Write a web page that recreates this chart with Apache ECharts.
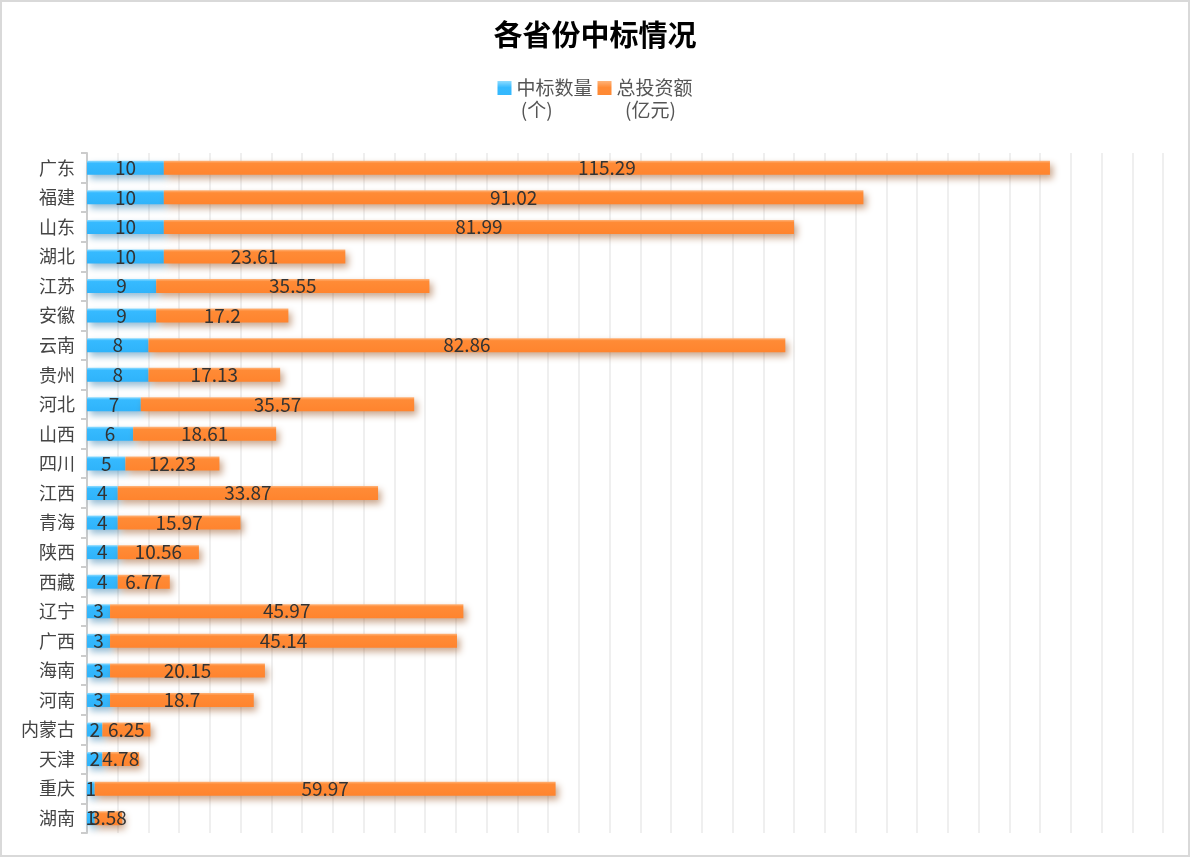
<!DOCTYPE html>
<html><head><meta charset="utf-8">
<script src="https://cdn.jsdelivr.net/npm/echarts@6/dist/echarts.min.js"></script>
<style>html,body{margin:0;padding:0;background:#fff}#c{width:1190px;height:857px}</style>
</head><body><div id="c"></div>
<script>
const categories = ['广东','福建','山东','湖北','江苏','安徽','云南','贵州','河北','山西','四川','江西','青海','陕西','西藏','辽宁','广西','海南','河南','内蒙古','天津','重庆','湖南'];
const countValues = [10,10,10,10,9,9,8,8,7,6,5,4,4,4,4,3,3,3,3,2,2,1,1];
const investValues = [115.29,91.02,81.99,23.61,35.55,17.2,82.86,17.13,35.57,18.61,12.23,33.87,15.97,10.56,6.77,45.97,45.14,20.15,18.7,6.25,4.78,59.97,3.58];
const seriesNames = ['中标数量\n (个)', '总投资额\n  (亿元)'];

const FONT = '"Microsoft YaHei","Noto Sans CJK SC",sans-serif';
function grad(top, main, bottom){
  return new echarts.graphic.LinearGradient(0,0,0,1,[
    {offset:0,color:top},{offset:0.18,color:main},{offset:1,color:bottom}]);
}
const iconPath = 'path://M0,0L14,0L14,14L0,14Z M0,36L0.01,36';
const chart = echarts.init(document.getElementById('c'));
chart.setOption({
  animation:false,
  backgroundColor:'#fff',
  textStyle:{fontFamily:FONT},
  graphic:[{type:'rect',silent:true,z:100,shape:{x:1,y:1,width:1188,height:855},style:{fill:'none',stroke:'#d9d9d9',lineWidth:2}}],
  title:{text:'各省份中标情况',left:'center',top:15,textStyle:{fontSize:29,fontWeight:'bold',color:'#000',fontFamily:FONT}},
  legend:{top:72,left:'center',itemWidth:14,itemHeight:36,itemGap:5,icon:iconPath,
    textStyle:{fontSize:19,color:'#555',lineHeight:22,fontFamily:FONT},
    data:seriesNames},
  grid:{left:87,right:27,top:153,bottom:24,containLabel:false},
  xAxis:{type:'value',min:0,max:140,interval:4,
    axisLabel:{show:false},axisLine:{show:false},axisTick:{show:false},
    splitLine:{show:true,lineStyle:{color:'#efefef',width:2}}},
  yAxis:{type:'category',inverse:true,data:categories,
    axisLine:{show:true,lineStyle:{color:'#cccccc',width:2}},
    axisTick:{show:true,length:6,lineStyle:{color:'#cccccc',width:2}},
    axisLabel:{fontSize:18,color:'#444',margin:12,fontFamily:FONT}},
  series:[
    {name:seriesNames[0],type:'bar',stack:'a',barWidth:14,data:countValues,
      itemStyle:{color:grad('#8fdcff','#36baff','#2fb3fa'),shadowColor:'rgba(40,120,170,0.5)',shadowBlur:7,shadowOffsetX:3,shadowOffsetY:4},
      label:{show:true,position:'inside',color:'#333',fontSize:19,fontFamily:FONT}},
    {name:seriesNames[1],type:'bar',stack:'a',barWidth:14,data:investValues,
      itemStyle:{color:grad('#ffb47a','#ff8b36','#ff842e'),shadowColor:'rgba(150,80,30,0.5)',shadowBlur:7,shadowOffsetX:3,shadowOffsetY:4},
      label:{show:true,position:'inside',color:'#333',fontSize:19,fontFamily:FONT}}
  ]
});
</script></body></html>
